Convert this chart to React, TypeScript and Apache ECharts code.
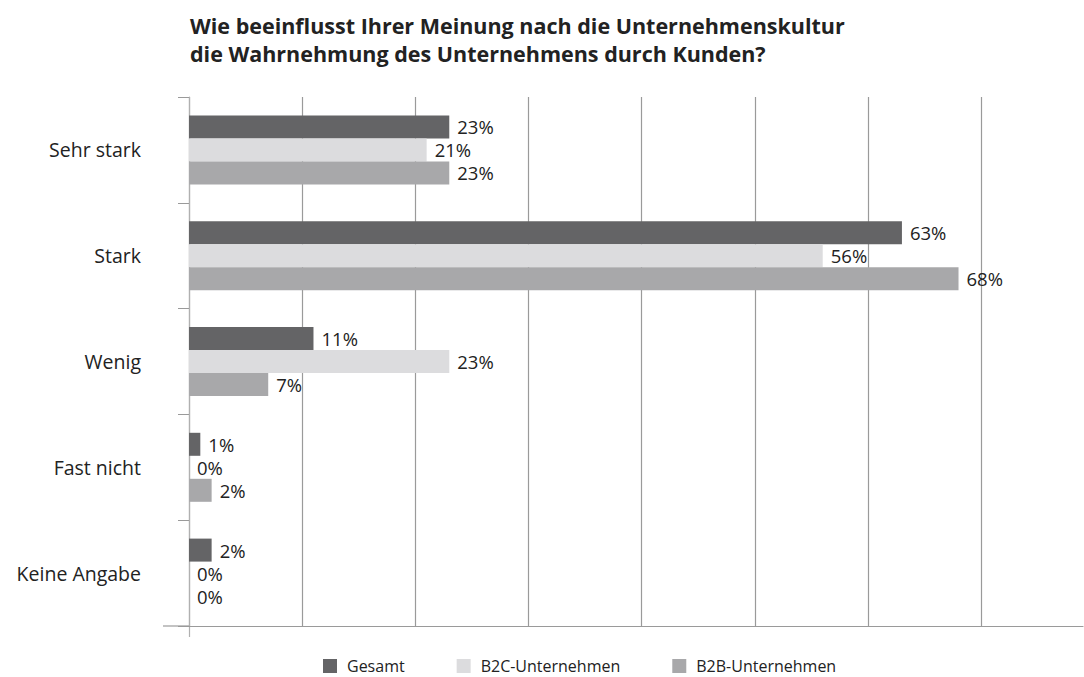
import React, { useEffect, useRef } from "react";
import * as echarts from "echarts";

const categories = ["Sehr stark", "Stark", "Wenig", "Fast nicht", "Keine Angabe"];
const seriesNames = ["Gesamt", "B2C-Unternehmen", "B2B-Unternehmen"];
const gesamt = [23, 63, 11, 1, 2];
const b2c = [21, 56, 23, 0, 0];
const b2b = [23, 68, 7, 2, 0];
const colors = ["#646466", "#dcdcde", "#a8a8aa"];
const titleLines = [
  "Wie beeinflusst Ihrer Meinung nach die Unternehmenskultur",
  "die Wahrnehmung des Unternehmens durch Kunden?",
];

const FONT = "'Open Sans', 'Noto Sans', sans-serif";

export default function App() {
  const ref = useRef<HTMLDivElement>(null);
  useEffect(() => {
    if (!ref.current) return;
    const chart = echarts.init(ref.current, undefined, { renderer: "svg" });
    const values = [gesamt, b2c, b2b];
    chart.setOption({
      animation: false,
      backgroundColor: "#ffffff",
      textStyle: { fontFamily: FONT },
      title: {
        text: titleLines.join("\n"),
        left: 185,
        top: 6,
        textStyle: {
          fontFamily: FONT,
          fontWeight: "bold",
          fontSize: 21.5,
          lineHeight: 28,
          color: "#222222",
        },
      },
      legend: {
        data: seriesNames,
        top: 653,
        left: 318,
        icon: "rect",
        itemWidth: 14,
        itemHeight: 14,
        itemGap: 52,
        textStyle: { fontFamily: FONT, fontSize: 16, color: "#222222", padding: [0, 0, 0, 5] },
      },
      grid: { left: 189, top: 97, right: 1, bottom: 51, containLabel: false },
      xAxis: {
        type: "value",
        min: 0,
        max: 79,
        interval: 10,
        axisLabel: { show: false },
        axisTick: { show: false },
        axisLine: { show: true, lineStyle: { color: "#9a9a9a", width: 1.2 } },
        splitLine: { show: true, showMaxLine: false, lineStyle: { color: "#9a9a9a", width: 1.2 } },
      },
      yAxis: {
        type: "category",
        data: categories,
        inverse: true,
        axisLine: { show: true, lineStyle: { color: "#b0b0b0", width: 1.2 } },
        axisTick: { show: true, length: 11, lineStyle: { color: "#9a9a9a" } },
        axisLabel: {
          fontFamily: FONT,
          fontSize: 19.5,
          color: "#222222",
          margin: 48,
          padding: [10, 0, 0, 0],
        },
        splitLine: { show: false },
      },
      series: seriesNames.map((name, i) => ({
        name,
        type: "bar",
        data: values[i],
        barWidth: 23,
        barGap: "0%",
        itemStyle: { color: colors[i] },
        label: {
          show: true,
          position: "right",
          distance: 8,
          formatter: "{c}%",
          fontFamily: FONT,
          fontSize: 18.5,
          lineHeight: 19,
          color: "#222222",
        },
      })),
      graphic: [
        { type: "line", shape: { x1: 163, y1: 626, x2: 189, y2: 626 }, style: { stroke: "#9a9a9a", lineWidth: 1.2 } },
        { type: "line", shape: { x1: 189.5, y1: 626, x2: 189.5, y2: 637 }, style: { stroke: "#b0b0b0", lineWidth: 1.2 } },
      ],
    });
    return () => chart.dispose();
  }, []);
  return (
    <div
      ref={ref}
      style={{ position: "fixed", left: 0, top: 0, width: 1084, height: 677 }}
    />
  );
}
